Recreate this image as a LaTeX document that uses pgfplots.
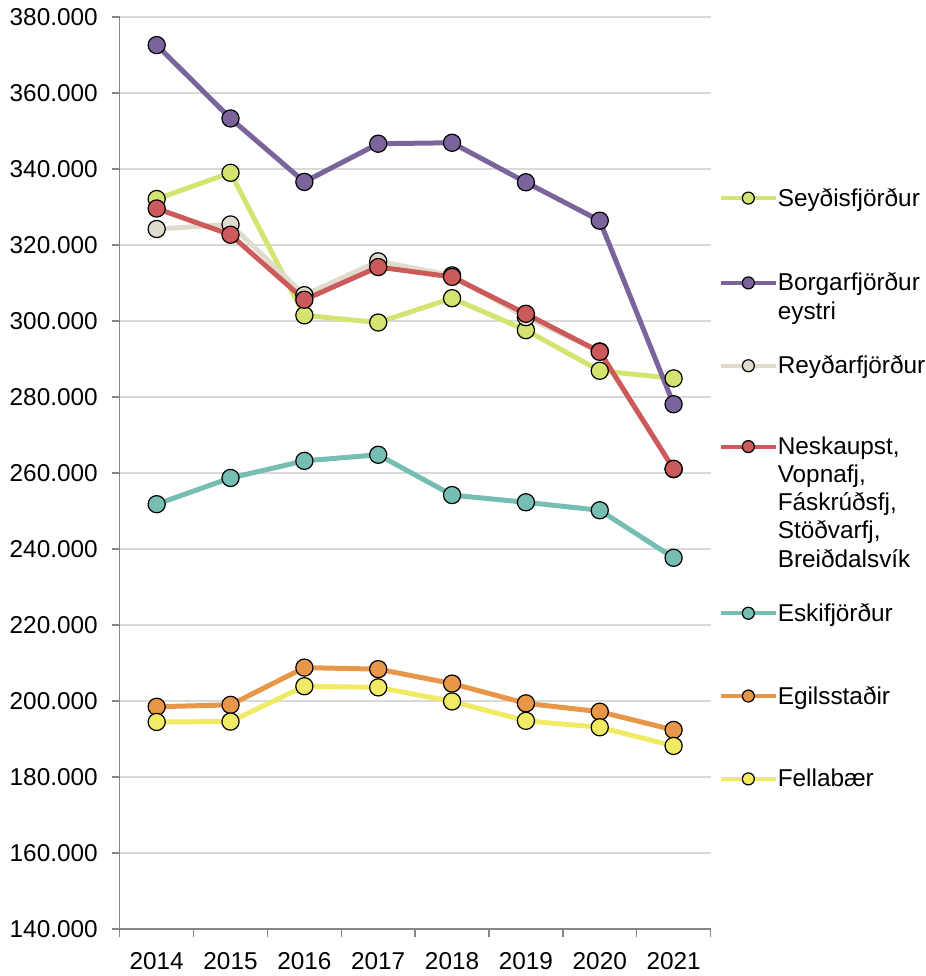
\documentclass[border=0pt]{standalone}
\usepackage{fontspec}
\setmainfont{Liberation Sans}
\usepackage{pgfplots}
\pgfplotsset{compat=1.18}

\definecolor{cSey}{RGB}{213,228,112}
\definecolor{cBor}{RGB}{123,100,156}
\definecolor{cRey}{RGB}{224,220,205}
\definecolor{cNes}{RGB}{205,90,90}
\definecolor{cEsk}{RGB}{118,190,178}
\definecolor{cEgi}{RGB}{232,150,72}
\definecolor{cFel}{RGB}{240,234,100}
\definecolor{axgray}{RGB}{134,134,134}
\definecolor{gridgray}{RGB}{217,217,217}

% legend strut: 10pt above baseline, #1 below
\newcommand{\lgs}[1]{\rule[-#1pt]{0pt}{\dimexpr#1pt+10pt\relax}}

\begin{document}
\begin{tikzpicture}[font=\fontsize{12.2pt}{14.1pt}\selectfont]
\begin{axis}[
    name=ax,
    scale only axis,
    width=296pt, height=457pt,
    xmin=-0.5, xmax=7.5,
    ymin=140000, ymax=380000,
    xtick={0,1,2,3,4,5,6,7},
    xticklabels={2014,2015,2016,2017,2018,2019,2020,2021},
    minor xtick={-0.5,0.5,1.5,2.5,3.5,4.5,5.5,6.5,7.5},
    major x tick style={draw=none},
    ytick={140000,160000,180000,200000,220000,240000,260000,280000,300000,320000,340000,360000,380000},
    scaled y ticks=false,
    /pgf/number format/assume math mode=true,
    yticklabel style={/pgf/number format/fixed, /pgf/number format/precision=0,
        /pgf/number format/1000 sep={.}, xshift=-3.5pt},
    xticklabel style={yshift=-4pt},
    axis x line*=bottom, axis y line*=left,
    axis line style={draw=axgray, line width=0.75pt, -},
    tick style={draw=axgray, line width=0.75pt},
    tick align=outside,
    major tick length=4pt, minor tick length=4pt,
    ymajorgrids, grid style={draw=gridgray, line width=0.75pt},
    every axis plot/.append style={line width=2.5pt, line join=round, mark=*, mark size=4.3pt},
    legend style={at={(1.0135,0.815)}, anchor=north west, draw=none, fill=none,
        inner sep=0pt, row sep=0pt, column sep=0pt,
        cells={anchor=base west}, nodes={inner sep=0pt, text depth=}},
    legend image code/.code={\draw[line width=2pt, mark size=3pt, mark repeat=2, mark phase=2]
        plot coordinates {(0pt,4pt)(13.75pt,4pt)(27.5pt,4pt)};},
]
\addplot[cSey, mark options={draw=black, fill=cSey, line width=0.6pt}] coordinates {
    (0,332100)(1,339000)(2,301500)(3,299600)(4,306000)(5,297600)(6,286900)(7,284900)};
\addlegendentry{\lgs{32.5}Seyðisfjörður}
\addplot[cBor, mark options={draw=black, fill=cBor, line width=0.6pt}] coordinates {
    (0,372600)(1,353300)(2,336600)(3,346650)(4,346900)(5,336500)(6,326400)(7,278100)};
\addlegendentry{\lgs{31.5}\vtop{\hbox{Borgarfjörður}\hbox{eystri}}}
\addplot[cRey, mark options={draw=black, fill=cRey, line width=0.6pt}] coordinates {
    (0,324200)(1,325400)(2,306800)(3,315700)(4,312000)(5,301000)(6,292000)(7,261000)};
\addlegendentry{\lgs{30.5}Reyðarfjörður}
\addplot[cNes, mark options={draw=black, fill=cNes, line width=0.6pt}] coordinates {
    (0,329600)(1,322700)(2,305600)(3,314200)(4,311600)(5,301900)(6,291900)(7,261100)};
\addlegendentry{\lgs{73.5}\vtop{\hbox{Neskaupst,}\hbox{Vopnafj,}\hbox{Fáskrúðsfj,}\hbox{Stöðvarfj,}\hbox{Breiðdalsvík}}}
\addplot[cEsk, mark options={draw=black, fill=cEsk, line width=0.6pt}] coordinates {
    (0,251800)(1,258700)(2,263200)(3,264800)(4,254200)(5,252300)(6,250200)(7,237700)};
\addlegendentry{\lgs{31.5}Eskifjörður}
\addplot[cEgi, mark options={draw=black, fill=cEgi, line width=0.6pt}] coordinates {
    (0,198500)(1,199000)(2,208800)(3,208400)(4,204600)(5,199400)(6,197200)(7,192400)};
\addlegendentry{\lgs{31.5}Egilsstaðir}
\addplot[cFel, mark options={draw=black, fill=cFel, line width=0.6pt}] coordinates {
    (0,194500)(1,194600)(2,203900)(3,203600)(4,199900)(5,194800)(6,193100)(7,188200)};
\addlegendentry{\lgs{3}Fellabær}
\end{axis}
\path (ax.south west) ++(-60pt,-22.5pt) rectangle ++(463pt,488pt);
\end{tikzpicture}
\end{document}
